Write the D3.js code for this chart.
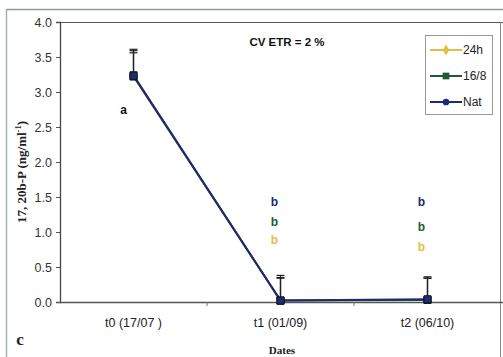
<!DOCTYPE html>
<html><head><meta charset="utf-8">
<script src="https://cdn.jsdelivr.net/npm/d3@7"></script>
<style>body{margin:0;background:#fff}svg{display:block}</style>
</head><body>
<script>
const categories = ["t0 (17/07 )", "t1 (01/09)", "t2 (06/10)"];
const seriesNames = ["24h", "16/8", "Nat"];
const values24h = [3.22, 0.02, 0.03];
const values168 = [3.24, 0.02, 0.03];
const valuesNat = [3.23, 0.02, 0.04];
const err24h = [0.34, 0.33, 0.31];
const err168 = [0.37, 0.36, 0.33];
const errNat = [0.36, 0.32, 0.30];
const yTicks = [0, 0.5, 1.0, 1.5, 2.0, 2.5, 3.0, 3.5, 4.0];
const letters = [
  {cat: 0, text: "a", series: "black", v: 2.75},
  {cat: 1, text: "b", series: "Nat", v: 1.43},
  {cat: 1, text: "b", series: "16/8", v: 1.15},
  {cat: 1, text: "b", series: "24h", v: 0.89},
  {cat: 2, text: "b", series: "Nat", v: 1.43},
  {cat: 2, text: "b", series: "16/8", v: 1.08},
  {cat: 2, text: "b", series: "24h", v: 0.79}
];
const colors = {"24h": "#e3bd45", "16/8": "#1e5a3a", "Nat": "#1c2a78", "black": "#111"};
const series = [
  {name: "24h", vals: values24h, err: err24h, shape: d3.symbolDiamond},
  {name: "16/8", vals: values168, err: err168, shape: d3.symbolSquare},
  {name: "Nat", vals: valuesNat, err: errNat, shape: d3.symbolCircle}
];

const W = 503, H = 357;
const svg = d3.select("body").append("svg").attr("width", W).attr("height", H);
svg.append("rect").attr("width", W).attr("height", H).attr("fill", "#fff");
// outer frame lines
svg.append("line").attr("x1", 6).attr("x2", W).attr("y1", 9.5).attr("y2", 9.5).attr("stroke", "#8a9a9a").attr("stroke-width", 1.5);
svg.append("line").attr("x1", 6.5).attr("x2", 6.5).attr("y1", 9).attr("y2", H).attr("stroke", "#9fb3b3").attr("stroke-width", 1.5);

const m = {l: 60, t: 22, r: 501, b: 302};
const x = d3.scaleBand().domain(categories).range([m.l, m.r]).padding(0);
const y = d3.scaleLinear().domain([0, 4]).range([m.b, m.t]);
const cx = c => x(c) + x.bandwidth() / 2;

// plot frame
svg.append("line").attr("x1", m.l).attr("x2", W).attr("y1", m.t + 0.5).attr("y2", m.t + 0.5).attr("stroke", "#555").attr("stroke-width", 1.2);
svg.append("line").attr("x1", 500.5).attr("x2", 500.5).attr("y1", m.t).attr("y2", H).attr("stroke", "#888").attr("stroke-width", 1);

const yAxis = svg.append("g").attr("transform", `translate(${m.l},0)`)
  .call(d3.axisLeft(y).tickValues(yTicks).tickFormat(d3.format(".1f")).tickSize(4).tickPadding(4));
yAxis.select(".domain").attr("stroke", "#444").attr("stroke-width", 1.3);
yAxis.selectAll(".tick line").attr("stroke", "#555");
yAxis.selectAll("text").attr("font-family", "Liberation Sans, Arial, sans-serif").attr("font-size", 12.5).attr("fill", "#333");

const xAxis = svg.append("g").attr("transform", `translate(0,${m.b})`)
  .call(d3.axisBottom(x).tickSize(0).tickPadding(16));
xAxis.select(".domain").remove();
xAxis.selectAll("text").attr("font-family", "Liberation Sans, Arial, sans-serif").attr("font-size", 12.5).attr("fill", "#222");
svg.append("line").attr("x1", m.l).attr("x2", W).attr("y1", m.b + 0.5).attr("y2", m.b + 0.5).attr("stroke", "#555").attr("stroke-width", 1.3);
// category boundary ticks
categories.slice(1).forEach(c => {
  svg.append("line").attr("x1", x(c)).attr("x2", x(c)).attr("y1", m.b).attr("y2", m.b + 4).attr("stroke", "#777");
});

// error bars
series.forEach(s => {
  const g = svg.append("g");
  s.vals.forEach((v, i) => {
    const px = cx(categories[i]);
    g.append("line").attr("x1", px).attr("x2", px).attr("y1", y(v)).attr("y2", y(v + s.err[i])).attr("stroke", "#222").attr("stroke-width", 1.2);
    g.append("line").attr("x1", px - 4).attr("x2", px + 4).attr("y1", y(v + s.err[i])).attr("y2", y(v + s.err[i])).attr("stroke", "#222").attr("stroke-width", 1.2);
  });
});

// lines + markers
const line = d3.line().x((d, i) => cx(categories[i])).y(d => y(d));
series.forEach(s => {
  svg.append("path").datum(s.vals).attr("d", line).attr("fill", "none").attr("stroke", colors[s.name]).attr("stroke-width", 2);
});
series.forEach(s => {
  svg.selectAll(null).data(s.vals).enter().append("path")
    .attr("d", d3.symbol().type(d3.symbolSquare).size(50))
    .attr("transform", (d, i) => `translate(${cx(categories[i])},${y(d)})`)
    .attr("fill", s.name === "24h" ? colors["Nat"] : colors[s.name]).attr("stroke", "#111").attr("stroke-width", 0.8);
});

// significance letters
svg.selectAll(".lt").data(letters).enter().append("text")
  .attr("x", d => cx(categories[d.cat]) - (d.cat === 0 ? 10 : 6))
  .attr("y", d => y(d.v)).attr("dy", "0.35em")
  .attr("text-anchor", "middle")
  .attr("font-family", "Liberation Sans, Arial, sans-serif").attr("font-weight", "bold").attr("font-size", 12)
  .attr("fill", d => colors[d.series]).text(d => d.text);

// CV text
svg.append("text").attr("x", 287).attr("y", 46).attr("text-anchor", "middle")
  .attr("font-family", "Liberation Sans, Arial, sans-serif").attr("font-weight", "bold").attr("font-size", 11.5).attr("fill", "#111")
  .text("CV ETR = 2 %");

// legend
const lg = svg.append("g");
lg.append("rect").attr("x", 425.5).attr("y", 35.5).attr("width", 67).attr("height", 79).attr("fill", "#fff").attr("stroke", "#999");
series.forEach((s, i) => {
  const ly = 50 + i * 26;
  lg.append("line").attr("x1", 430).attr("x2", 462).attr("y1", ly).attr("y2", ly).attr("stroke", colors[s.name]).attr("stroke-width", 2);
  lg.append("path").attr("d", d3.symbol().type(s.shape).size(s.name === "16/8" ? 45 : 35)).attr("transform", `translate(446,${ly})`).attr("fill", colors[s.name]);
  lg.append("text").attr("x", 463).attr("y", ly).attr("dy", "0.35em")
    .attr("font-family", "Liberation Sans, Arial, sans-serif").attr("font-size", 12).attr("fill", "#222").text(s.name);
});

// axis titles
const yt = svg.append("text").attr("transform", `translate(26,172) rotate(-90)`).attr("text-anchor", "middle")
  .attr("font-family", "Liberation Serif, Times New Roman, serif").attr("font-weight", "bold").attr("font-size", 13).attr("fill", "#222");
yt.append("tspan").text("17, 20b-P (ng/ml");
yt.append("tspan").attr("dy", -5).attr("font-size", 8.5).text("-1");
yt.append("tspan").attr("dy", 5).text(")");

svg.append("text").attr("x", 282).attr("y", 354).attr("text-anchor", "middle")
  .attr("font-family", "Liberation Serif, Times New Roman, serif").attr("font-weight", "bold").attr("font-size", 11).attr("fill", "#222").text("Dates");
svg.append("text").attr("x", 20).attr("y", 345).attr("text-anchor", "middle")
  .attr("font-family", "Liberation Serif, Times New Roman, serif").attr("font-weight", "bold").attr("font-size", 17).attr("fill", "#222").text("c");
</script>
</body></html>
